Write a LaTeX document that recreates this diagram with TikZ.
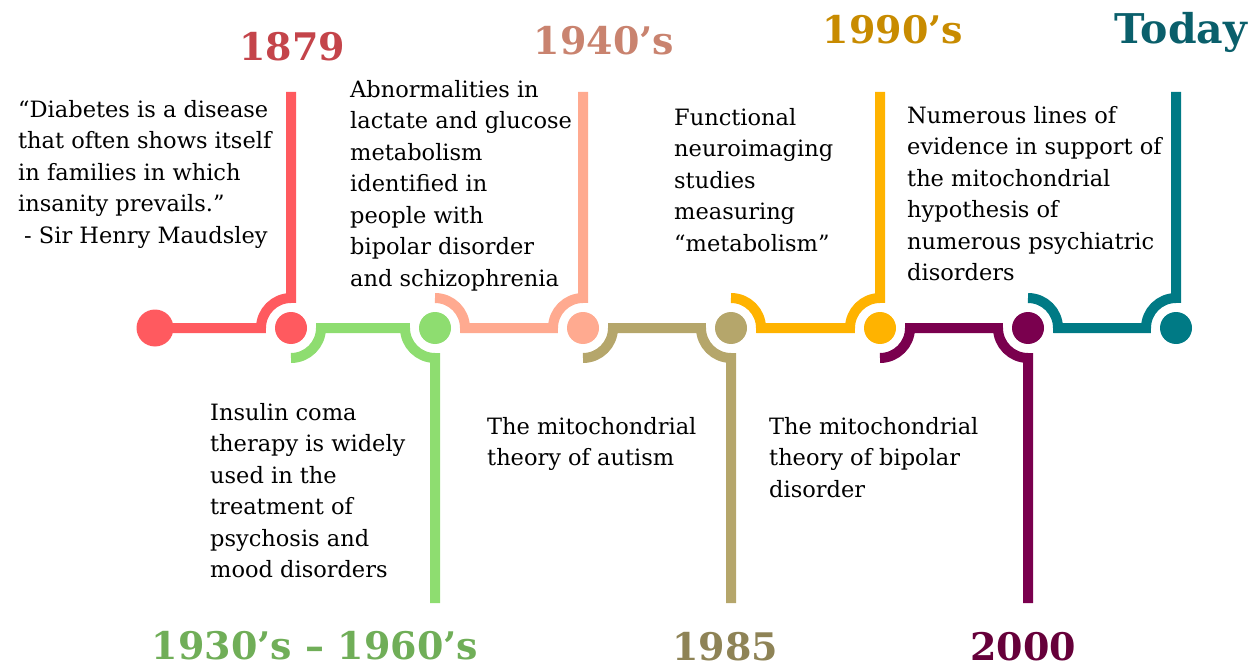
\documentclass[tikz,border=0pt]{standalone}
\usepackage{fontspec}
\setmainfont{DejaVu Serif}
\pgfdeclarelayer{bg}
\pgfsetlayers{bg,main}
\definecolor{cRed}{HTML}{FF5A5F}
\definecolor{cGreen}{HTML}{8EDD70}
\definecolor{cSalmon}{HTML}{FFAA90}
\definecolor{cOlive}{HTML}{B5A66B}
\definecolor{cYellow}{HTML}{FFB300}
\definecolor{cPurple}{HTML}{7A004E}
\definecolor{cTeal}{HTML}{007A85}
\definecolor{hRed}{HTML}{C4444A}
\definecolor{hGreen}{HTML}{70AE58}
\definecolor{hSalmon}{HTML}{C9836F}
\definecolor{hOlive}{HTML}{8E8356}
\definecolor{hYellow}{HTML}{C88B00}
\definecolor{hPurple}{HTML}{66003A}
\definecolor{hTeal}{HTML}{0A5F6B}
\tikzset{
  seg/.style={line width=10pt},
  dot/.style={circle, inner sep=0pt, minimum size=32pt, draw=none},
  body/.style={font=\fontsize{22.5pt}{31.5pt}\selectfont, align=left, anchor=north west, inner sep=0pt, text=black},
  year/.style={font=\fontsize{38pt}{40pt}\selectfont\bfseries, anchor=base, inner sep=0pt}
}
\begin{document}
\begin{tikzpicture}[x=1pt,y=-1pt]
\useasboundingbox (0,0) rectangle (1256,671);
% dots
\node[dot, fill=cRed, minimum size=37pt] (d1) at (155,328) {};
\node[dot, fill=cRed] (d2) at (291,328) {};
\node[dot, fill=cGreen] (d3) at (435,328) {};
\node[dot, fill=cSalmon] (d4) at (583,328) {};
\node[dot, fill=cOlive] (d5) at (731,328) {};
\node[dot, fill=cYellow] (d6) at (880,328) {};
\node[dot, fill=cPurple] (d7) at (1028,328) {};
\node[dot, fill=cTeal] (d8) at (1176,328) {};
% free ends
\coordinate (e2) at (291,92);
\coordinate (e3) at (435,603);
\coordinate (e4) at (583,92);
\coordinate (e5) at (731,603);
\coordinate (e6) at (880,92);
\coordinate (e7) at (1028,603);
\coordinate (e8) at (1176,92);
% connectors
\begin{pgfonlayer}{bg}
\draw[seg, cRed] (d1.center) -- ([xshift=-30pt]d2.center) arc[start angle=180, end angle=90, radius=30pt] -- (e2);
\draw[seg, cGreen] ([yshift=-30pt]d2.center) arc[start angle=270, end angle=360, radius=30pt] -- ([xshift=-30pt]d3.center) arc[start angle=180, end angle=270, radius=30pt] -- (e3);
\draw[seg, cSalmon] ([yshift=30pt]d3.center) arc[start angle=90, end angle=0, radius=30pt] -- ([xshift=-30pt]d4.center) arc[start angle=180, end angle=90, radius=30pt] -- (e4);
\draw[seg, cOlive] ([yshift=-30pt]d4.center) arc[start angle=270, end angle=360, radius=30pt] -- ([xshift=-30pt]d5.center) arc[start angle=180, end angle=270, radius=30pt] -- (e5);
\draw[seg, cYellow] ([yshift=30pt]d5.center) arc[start angle=90, end angle=0, radius=30pt] -- ([xshift=-30pt]d6.center) arc[start angle=180, end angle=90, radius=30pt] -- (e6);
\draw[seg, cPurple] ([yshift=-30pt]d6.center) arc[start angle=270, end angle=360, radius=30pt] -- ([xshift=-30pt]d7.center) arc[start angle=180, end angle=270, radius=30pt] -- (e7);
\draw[seg, cTeal] ([yshift=30pt]d7.center) arc[start angle=90, end angle=0, radius=30pt] -- ([xshift=-30pt]d8.center) arc[start angle=180, end angle=90, radius=30pt] -- (e8);
\end{pgfonlayer}
% years
\node[year, text=hRed] (y1) at (292,61) {1879};
\node[year, text=hGreen] (y2) at (315,659) {1930’s – 1960’s};
\node[year, text=hSalmon] (y3) at (604,55) {1940’s};
\node[year, text=hOlive] (y4) at (725,660) {1985};
\node[year, text=hYellow] (y5) at (893,44) {1990’s};
\node[year, text=hPurple] (y6) at (1023,660) {2000};
\node[year, text=hTeal, font=\fontsize{41pt}{43pt}\selectfont\bfseries] (y7) at (1181,44) {Today};
% texts
\node[body] (t1) at (18,100) {“Diabetes is a disease\\that often shows itself\\in families in which\\insanity prevails.”\\\hspace*{6pt}- Sir Henry Maudsley};
\node[body] (t2) at (210,403) {Insulin coma\\therapy is widely\\used in the\\treatment of\\psychosis and\\mood disorders};
\node[body] (t3) at (350,80) {Abnormalities in\\lactate and glucose\\metabolism\\identified in\\people with\\bipolar disorder\\and schizophrenia};
\node[body] (t4) at (487,417) {The mitochondrial\\theory of autism};
\node[body] (t5) at (674,108) {Functional\\neuroimaging\\studies\\measuring\\“metabolism”};
\node[body] (t6) at (769,417) {The mitochondrial\\theory of bipolar\\disorder};
\node[body] (t7) at (907,106) {Numerous lines of\\evidence in support of\\the mitochondrial\\hypothesis of\\numerous psychiatric\\disorders};
\end{tikzpicture}
\end{document}
